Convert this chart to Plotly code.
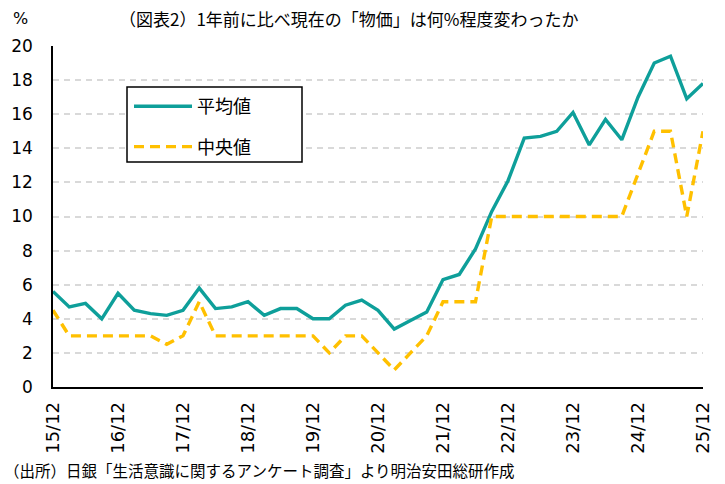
import plotly.graph_objects as go

tick_labels = ["15/12", "16/12", "17/12", "18/12", "19/12", "20/12",
               "21/12", "22/12", "23/12", "24/12", "25/12"]

mean_values = [5.6, 4.7, 4.9, 4.0, 5.5, 4.5, 4.3, 4.2, 4.5, 5.8,
               4.6, 4.7, 5.0, 4.2, 4.6, 4.6, 4.0, 4.0, 4.8, 5.1,
               4.5, 3.4, 3.9, 4.4, 6.3, 6.6, 8.1, 10.3, 12.1, 14.6,
               14.7, 15.0, 16.1, 14.2, 15.7, 14.5, 17.0, 19.0, 19.4, 16.9,
               17.8]

median_values = [4.5, 3, 3, 3, 3, 3, 3, 2.5, 3, 5,
                 3, 3, 3, 3, 3, 3, 3, 2, 3, 3,
                 2, 1, 2, 3, 5, 5, 5, 10, 10, 10,
                 10, 10, 10, 10, 10, 10, 12.5, 15, 15, 10,
                 15]

x_idx = list(range(len(mean_values)))
tick_pos = [i * 4 for i in range(len(tick_labels))]

TEAL = "#0E9F9A"
YELLOW = "#FFC000"
JP = "Noto Sans CJK JP"
NUM = "DejaVu Sans"

L, R, T, B = 53, 22, 46, 97
PW, PH = 725 - L - R, 484 - T - B

def px(x):
    return (x - L) / PW

def py(y):
    return 1 - (y - T) / PH

fig = go.Figure()
fig.add_trace(go.Scatter(x=x_idx, y=mean_values, mode="lines", name="平均値",
                         legendgroup="a",
                         line=dict(color=TEAL, width=3.4)))
fig.add_trace(go.Scatter(x=x_idx, y=median_values, mode="lines", name="中央値",
                         legendgroup="b",
                         line=dict(color=YELLOW, width=3.4, dash="10px,6px")))

fig.update_layout(
    width=725, height=484,
    margin=dict(l=L, r=R, t=T, b=B),
    paper_bgcolor="white", plot_bgcolor="white",
    showlegend=True,
    legend=dict(x=px(129), y=py(88), xanchor="left", yanchor="top",
                borderwidth=0, bgcolor="rgba(0,0,0,0)",
                font=dict(family=JP, size=18, color="#000000"),
                itemwidth=58, tracegroupgap=14),
    shapes=[dict(type="rect", xref="paper", yref="paper",
                 x0=px(127), x1=px(302), y0=py(162), y1=py(87),
                 fillcolor="white", line=dict(color="#000000", width=1.5),
                 layer="above")],
    xaxis=dict(range=[0, 40], tickmode="array", tickvals=tick_pos, ticktext=tick_labels,
               tickangle=-90, showgrid=False, zeroline=False, automargin=False,
               showline=True, linecolor="#000000", linewidth=1.5,
               ticks="", ticklabelstandoff=6,
               tickfont=dict(family=NUM, size=18, color="#000000")),
    yaxis=dict(range=[0, 20], tickmode="array", tickvals=list(range(0, 21, 2)),
               showgrid=True, gridcolor="#D9D9D9", griddash="6px,5px", gridwidth=1.5,
               zeroline=False, showline=True, linecolor="#000000", linewidth=1.5,
               ticks="", ticklabelstandoff=15, automargin=False,
               tickfont=dict(family=NUM, size=17, color="#000000")),
    annotations=[
        dict(text="%", x=px(20), y=py(18), xref="paper", yref="paper", showarrow=False,
             xanchor="center", yanchor="middle",
             font=dict(family=NUM, size=16, color="#000000")),
        dict(text="（図表2）1年前に比べ現在の「物価」は何%程度変わったか", xref="paper", yref="paper",
             x=px(349), y=py(18), xanchor="center", yanchor="middle",
             showarrow=False, font=dict(family=JP, size=17, color="#000000")),
        dict(text="（出所）日銀「生活意識に関するアンケート調査」より明治安田総研作成", xref="paper", yref="paper",
             x=px(2), y=py(470), xanchor="left", yanchor="middle",
             showarrow=False, font=dict(family=JP, size=15.5, color="#000000")),
    ],
)

fig.write_html("out.html", config={"displayModeBar": False},
               post_script="document.body.style.margin='0px';")
